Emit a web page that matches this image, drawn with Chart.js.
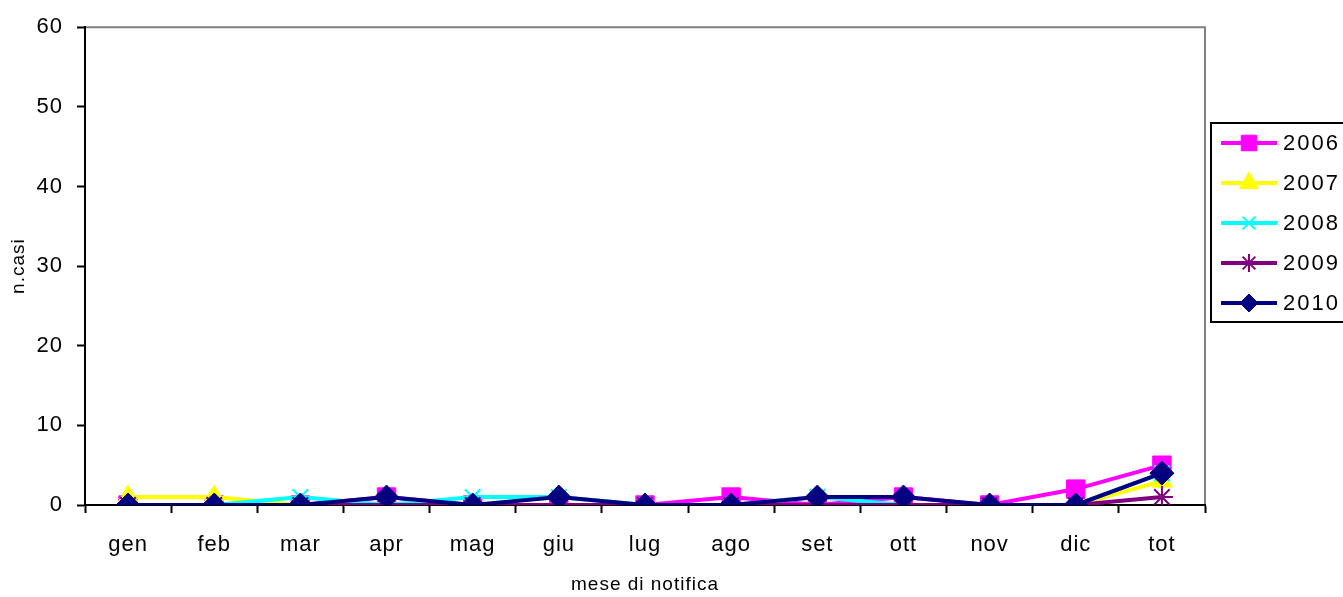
<!DOCTYPE html>
<html>
<head>
<meta charset="utf-8">
<script src="https://cdn.jsdelivr.net/npm/chart.js@4/dist/chart.umd.min.js"></script>
<style>
  html, body { margin: 0; padding: 0; background: #fff; }
  canvas { display: block; }
</style>
</head>
<body>
<canvas id="casiChart" width="1343" height="597"></canvas>
<script>
'use strict';

// data
const mesi = ['gen', 'feb', 'mar', 'apr', 'mag', 'giu', 'lug', 'ago', 'set', 'ott', 'nov', 'dic', 'tot'];
const anni = ['2006', '2007', '2008', '2009', '2010'];
const casi2006 = [0, 0, 0, 1, 0, 0, 0, 1, 0, 1, 0, 2, 5];
const casi2007 = [1, 1, 0, 0, 0, 0, 0, 0, 0, 0, 0, 0, 3];
const casi2008 = [0, 0, 1, 0, 1, 1, 0, 0, 1, 0, 0, 0, 4];
const casi2009 = [0, 0, 0, 0, 0, 0, 0, 0, 0, 0, 0, 0, 1];
const casi2010 = [0, 0, 0, 1, 0, 1, 0, 0, 1, 1, 0, 0, 4];
const yTicks = [0, 10, 20, 30, 40, 50, 60];

const FONT = '"Liberation Sans", Arial, sans-serif';

function serie(label, data, color, style, radius, legendRadius, order) {
  return {
    label: label,
    data: data,
    borderColor: color,
    backgroundColor: color,
    borderWidth: 4,
    pointStyle: style,
    pointRadius: radius,
    pointHoverRadius: radius,
    pointBorderWidth: (style === 'crossRot' || style === 'star') ? 2 : 1,
    pointBorderColor: color,
    pointBackgroundColor: color,
    legendRadius: legendRadius,
    tension: 0,
    order: order
  };
}

// gray frame on top / right of plot area, a bit of letter spacing like the excel output
const plotFrame = {
  id: 'plotFrame',
  beforeDraw(chart) {
    const a = chart.chartArea, ctx = chart.ctx;
    ctx.letterSpacing = '1px';
    ctx.save();
    ctx.strokeStyle = '#808080';
    ctx.lineWidth = 2;
    ctx.beginPath();
    ctx.moveTo(a.left, a.top);
    ctx.lineTo(a.right, a.top);
    ctx.lineTo(a.right, a.bottom);
    ctx.stroke();
    ctx.restore();
  }
};

// excel style legend box on the right
const boxLegend = {
  id: 'boxLegend',
  afterDraw(chart) {
    const ctx = chart.ctx;
    const x0 = 1211, y0 = 123, h = 199;
    ctx.save();
    ctx.strokeStyle = '#000';
    ctx.lineWidth = 2;
    ctx.strokeRect(x0, y0, 160, h);
    chart.data.datasets.forEach(function (ds, i) {
      const y = 143 + i * 40;
      ctx.strokeStyle = ds.borderColor;
      ctx.fillStyle = ds.backgroundColor;
      ctx.lineWidth = 4;
      ctx.beginPath();
      ctx.moveTo(1221, y);
      ctx.lineTo(1277, y);
      ctx.stroke();
      ctx.lineWidth = ds.pointBorderWidth;
      Chart.helpers.drawPoint(ctx, {
        pointStyle: ds.pointStyle,
        radius: ds.legendRadius,
        rotation: 0,
        borderWidth: ds.pointBorderWidth
      }, 1249, y);
      ctx.fillStyle = '#000';
      ctx.font = '22px ' + FONT;
      ctx.letterSpacing = '2px';
      ctx.textBaseline = 'middle';
      ctx.fillText(ds.label, 1283, y + 1);
    });
    ctx.restore();
  }
};

const ctx = document.getElementById('casiChart').getContext('2d');
const casiChart = new Chart(ctx, {
  type: 'line',
  data: {
    labels: mesi,
    datasets: [
      serie(anni[0], casi2006, '#FF00FF', 'rect', 13, 11, 4),
      serie(anni[1], casi2007, '#FFFF00', 'triangle', 12, 11, 3),
      serie(anni[2], casi2008, '#00FFFF', 'crossRot', 11, 9, 2),
      serie(anni[3], casi2009, '#800080', 'star', 11, 9, 1),
      serie(anni[4], casi2010, '#000080', 'rectRot', 12, 9, 0)
    ]
  },
  options: {
    responsive: false,
    animation: false,
    layout: {
      padding: { top: 24, right: 138, bottom: 0, left: 0 }
    },
    plugins: {
      legend: { display: false },
      tooltip: { enabled: false }
    },
    scales: {
      x: {
        offset: true,
        afterFit: function (scale) { scale.height = 92; },
        grid: {
          offset: true,
          drawOnChartArea: false,
          drawTicks: true,
          tickLength: 8,
          tickWidth: 2,
          color: '#000'
        },
        border: { color: '#000', width: 2 },
        ticks: {
          color: '#000',
          padding: 19,
          maxRotation: 0,
          font: { family: FONT, size: 22 }
        },
        title: {
          display: true,
          text: 'mese di notifica',
          color: '#000',
          padding: { top: 0, bottom: 1 },
          font: { family: FONT, size: 19 }
        }
      },
      y: {
        min: 0,
        max: 60,
        afterFit: function (scale) { scale.width = 85; },
        afterBuildTicks: function (scale) {
          scale.ticks = yTicks.map(function (v) { return { value: v }; });
        },
        grid: {
          drawOnChartArea: false,
          drawTicks: true,
          tickLength: 8,
          tickWidth: 2,
          color: '#000'
        },
        border: { color: '#000', width: 2 },
        ticks: {
          color: '#000',
          padding: 14,
          font: { family: FONT, size: 22 }
        },
        title: {
          display: true,
          text: 'n.casi',
          color: '#000',
          padding: { top: 7, bottom: 0 },
          font: { family: FONT, size: 19 }
        }
      }
    }
  },
  plugins: [plotFrame, boxLegend]
});
</script>
</body>
</html>
